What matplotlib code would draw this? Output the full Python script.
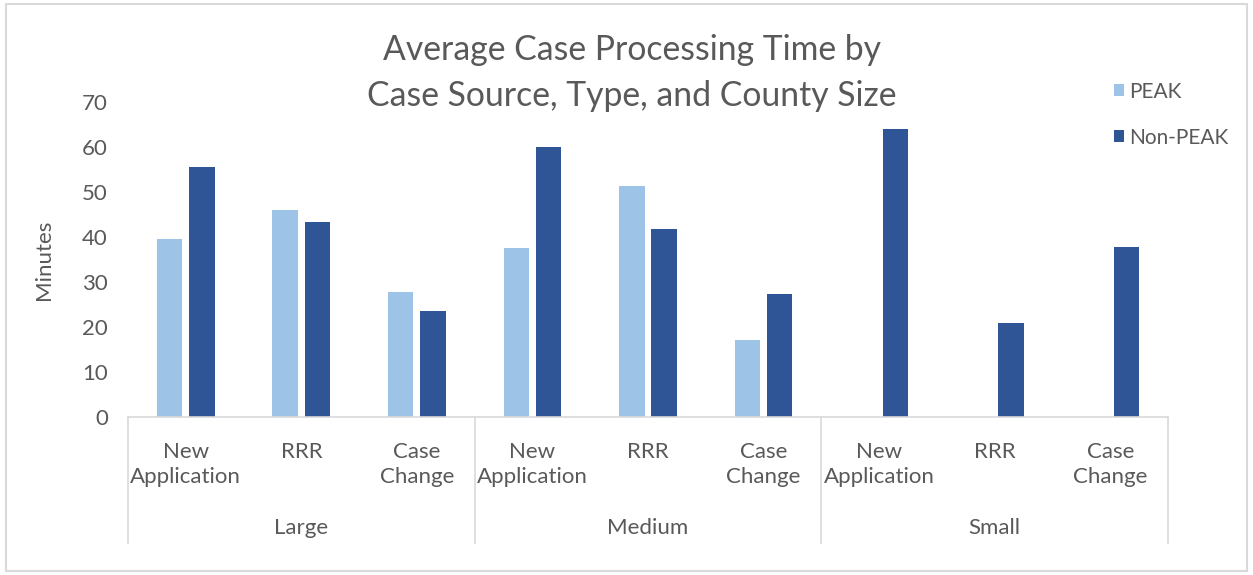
import numpy as np
import matplotlib
matplotlib.use("Agg")
import matplotlib.pyplot as plt
from matplotlib.patches import Rectangle
from matplotlib.transforms import blended_transform_factory

plt.rcParams['font.family'] = ['Lato', 'DejaVu Sans']

# Data
sizes = ["Large", "Medium", "Small"]
case_types = ["New\nApplication", "RRR", "Case\nChange"]
peak = [39.5, 46.0, 27.8, 37.5, 51.4, 17.1, np.nan, np.nan, np.nan]
non_peak = [55.5, 43.3, 23.5, 59.9, 41.7, 27.4, 64.0, 20.9, 37.8]
series_names = ["PEAK", "Non-PEAK"]

TEXT = "#595959"
LINE = "#D9D9D9"
C_PEAK = "#9DC3E6"
C_NON = "#2F5597"

W, H = 1253, 575
fig = plt.figure(figsize=(W / 100, H / 100), dpi=100)
fig.patch.set_facecolor("white")

# chart border
fig.add_artist(Rectangle((6 / W, 4 / H), (W - 12) / W, (H - 8) / H,
                         transform=fig.transFigure, fill=False,
                         edgecolor=LINE, linewidth=1.5))

ax = fig.add_axes([128 / W, 1 - 417 / H, (1168 - 128) / W, (417 - 102) / H])

n = len(non_peak)
x = np.arange(n)
bw = 0.22
off = 0.14
b1 = ax.bar(x - off, peak, width=bw, color=C_PEAK, label=series_names[0])
b2 = ax.bar(x + off, non_peak, width=bw, color=C_NON, label=series_names[1])

ax.set_xlim(-0.5, n - 0.5)
ax.set_ylim(0, 70)
ax.set_yticks(np.arange(0, 71, 10))
ax.tick_params(axis="y", length=0, pad=14.5, labelsize=16, labelcolor=TEXT)

labels = case_types * len(sizes)
ax.set_xticks(x)
ax.set_xticklabels(labels, linespacing=1.3)
ax.tick_params(axis="x", length=0, pad=18, labelsize=16, labelcolor=TEXT)

for s in ["top", "right", "left"]:
    ax.spines[s].set_visible(False)
ax.spines["bottom"].set_color(LINE)
ax.spines["bottom"].set_linewidth(1.2)

ax.set_ylabel("Minutes", fontsize=16, color=TEXT, labelpad=20)

# group separators and county size labels
tr = blended_transform_factory(ax.transData, ax.transAxes)
bottom = -(543 - 417) / (417 - 102)
for k in range(len(sizes) + 1):
    xs = k * 3 - 0.5
    ax.plot([xs, xs], [0, bottom], transform=tr, color=LINE,
            linewidth=1.2, clip_on=False)
for k, name in enumerate(sizes):
    ax.text(k * 3 + 1, -(528 - 417) / (417 - 102), name, transform=tr,
            ha="center", va="center", fontsize=16, color=TEXT)

fig.text(632 / W, 1 - 73 / H,
         "Average Case Processing Time by\nCase Source, Type, and County Size",
         ha="center", va="center", fontsize=24.3, color=TEXT, linespacing=1.5)

fig.legend(handles=[b1, b2], loc="upper left",
           bbox_to_anchor=(1095 / W, 1 - 63 / H), frameon=False,
           fontsize=15, labelcolor=TEXT, handlelength=0.5, handleheight=0.5,
           handletextpad=0.25, labelspacing=1.25)

fig.savefig("out.png", dpi=100, facecolor="white")
